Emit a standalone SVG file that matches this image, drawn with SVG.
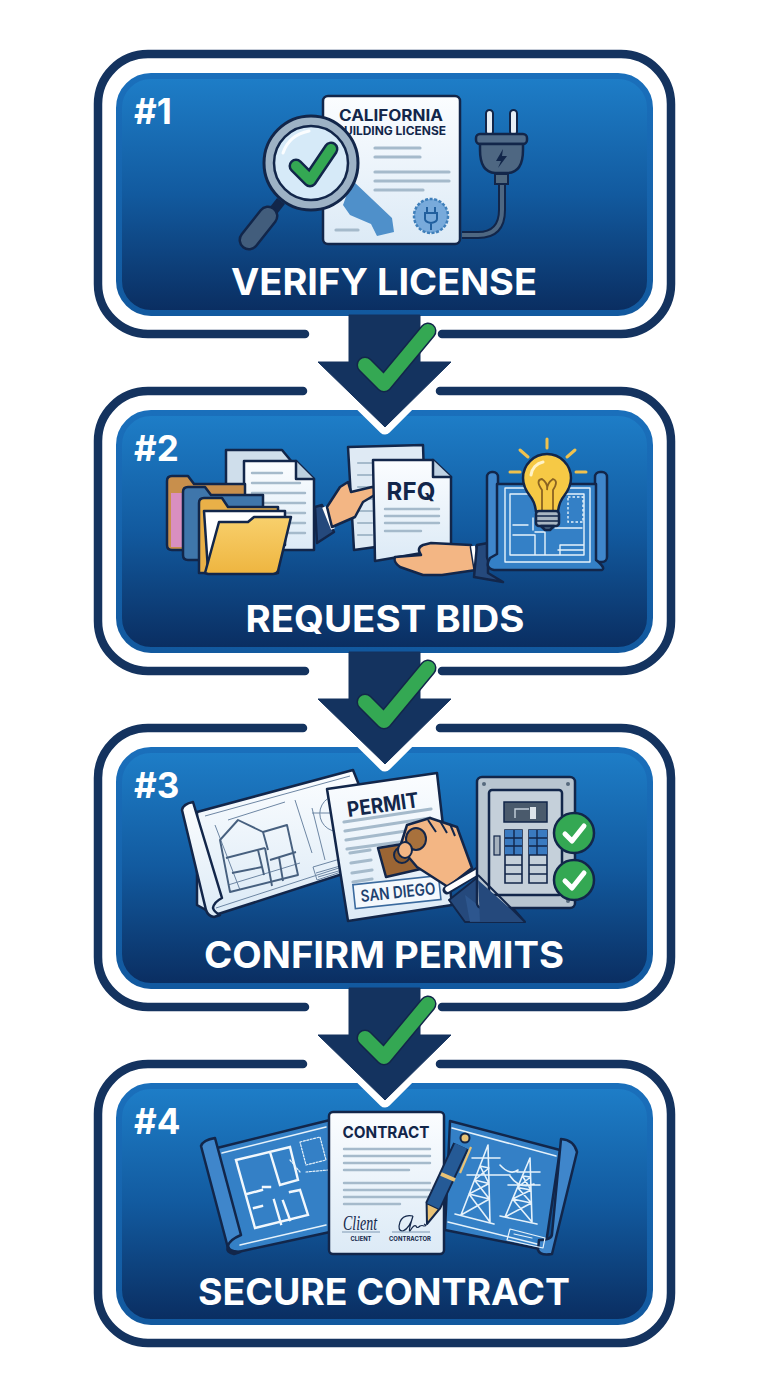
<svg xmlns="http://www.w3.org/2000/svg" width="768" height="1376" viewBox="0 0 768 1376">
<style>
.frame{fill:none;stroke:#14335f;stroke-width:8.5;stroke-linecap:round}
.panel{fill:url(#pg);stroke:url(#bg);stroke-width:6}
.num{font:700 35px Inter,"Liberation Sans",sans-serif;fill:#fff}
.title{font:700 37px Inter,"Liberation Sans",sans-serif;fill:#fff;text-anchor:middle}
.ink{font-family:Inter,"Liberation Sans",sans-serif;font-weight:700;fill:#12264a;text-anchor:middle}
.o{stroke:#12264a;stroke-width:2.5;stroke-linejoin:round;stroke-linecap:round}
.paper{fill:url(#paper);stroke:#12264a;stroke-width:2.5;stroke-linejoin:round}
.ln{fill:none;stroke:#a5bacb;stroke-width:3.2;stroke-linecap:round}
.wl{fill:none;stroke:#e6f2fb;stroke-width:1.5;stroke-linecap:round;stroke-linejoin:round}
.wb{fill:none;stroke:#f2f8fd;stroke-width:2.4;stroke-linecap:square;stroke-linejoin:miter}
.dl{fill:none;stroke:#6d86a3;stroke-width:1}
.dk{fill:none;stroke:#47607f;stroke-width:1.9;stroke-linejoin:round}
.skin{fill:#f3b684;stroke:#12264a;stroke-width:2.5;stroke-linejoin:round}
.suit{fill:#25497c;stroke:#12264a;stroke-width:2.5;stroke-linejoin:round}
.bp{fill:#3480c6;stroke:#12264a;stroke-width:2.5;stroke-linejoin:round}
.roll{fill:#3f86cb;stroke:#12264a;stroke-width:2.5;stroke-linejoin:round}
.ck1{fill:none;stroke:#12264a;stroke-width:17;stroke-linecap:round;stroke-linejoin:round}
.ck2{fill:none;stroke:#34a853;stroke-width:14;stroke-linecap:round;stroke-linejoin:round}
</style>
<defs>
<linearGradient id="pg" x1="0" y1="0" x2="0" y2="1"><stop offset="0" stop-color="#1e7ec8"/><stop offset=".5" stop-color="#125a9f"/><stop offset="1" stop-color="#0a2d60"/></linearGradient>
<linearGradient id="bg" x1="0" y1="0" x2="0" y2="1"><stop offset="0" stop-color="#1a6fbb"/><stop offset="1" stop-color="#12599f"/></linearGradient>
<linearGradient id="paper" x1="0" y1="0" x2="0" y2="1"><stop offset="0" stop-color="#fbfdff"/><stop offset="1" stop-color="#dceaf6"/></linearGradient>
<linearGradient id="yf" x1="0" y1="0" x2="0" y2="1"><stop offset="0" stop-color="#f8d06c"/><stop offset="1" stop-color="#eeb540"/></linearGradient>
<g id="arrow">
<path d="M318 362L385 428L451 362" fill="none" stroke="#fff" stroke-width="13" stroke-linejoin="round"/>
<path d="M349 315H420V362H451L385 427L318 362H349Z" fill="#14335f" stroke="#14335f" stroke-width="1" stroke-linejoin="round"/>
<path class="ck1" d="M365 365L384 384L428 331"/>
<path class="ck2" d="M365 365L384 384L428 331"/>
</g>
</defs>
<rect width="768" height="1376" fill="#fff"/>

<g id="step1">
<path class="frame" d="M305 334H148a50 50 0 0 1-50-50V104a50 50 0 0 1 50-50H621a50 50 0 0 1 50 50V284a50 50 0 0 1-50 50H442"/>
<rect class="panel" x="119" y="76" width="531" height="237" rx="32"/>
<text class="num" x="134" y="124">#1</text>
<path d="M462 235H478Q502 235 502 210V183" fill="none" stroke="#12264a" stroke-width="8"/>
<path d="M462 235H478Q502 235 502 210V183" fill="none" stroke="#4e6782" stroke-width="4"/>
<rect class="paper" x="323" y="96" width="137" height="148" rx="5"/>
<text class="ink" x="391" y="121" font-size="15.5" textLength="104" lengthAdjust="spacingAndGlyphs">CALIFORNIA</text>
<text class="ink" x="391" y="135" font-size="11.5" textLength="110" lengthAdjust="spacingAndGlyphs">BUILDING LICENSE</text>
<path class="ln" d="M375 148H420M375 157H420M375 172H449M375 181H449M375 190H423M336 230H358"/>
<path d="M352 180L392 218L394 232L377 236L371 224L350 215L343 205Z" fill="#4f90ca"/>
<circle cx="431" cy="216" r="17" fill="#78aadb" stroke="#3f7fba" stroke-width="2.5" stroke-dasharray="3 1.6"/>
<path d="M427 207V213M435 207V213M425 213H437V219Q437 222 431 223Q425 222 425 219ZM431 223V230" fill="none" stroke="#215f9e" stroke-width="2"/>
<path d="M281 201L270 215" stroke="#12264a" stroke-width="10"/>
<path d="M268 216L249 240" stroke="#12264a" stroke-width="21" stroke-linecap="round"/>
<path d="M268 216L249 240" stroke="#425d7c" stroke-width="16" stroke-linecap="round"/>
<circle cx="311" cy="163" r="47" fill="#9db2c5" stroke="#12264a" stroke-width="3"/>
<circle cx="311" cy="163" r="37" fill="#d6eaf8" stroke="#12264a" stroke-width="2.5"/>
<path d="M283 153Q289 135 309 131" fill="none" stroke="#fff" stroke-width="3" stroke-linecap="round" opacity=".9"/>
<path class="ck1" d="M296 166L310 180L331 149" style="stroke-width:15"/>
<path class="ck2" d="M296 166L310 180L331 149" style="stroke-width:10"/>
<rect x="486" y="110" width="7" height="25" rx="3.5" fill="#e7eef5" stroke="#12264a" stroke-width="2"/>
<rect x="510" y="110" width="7" height="25" rx="3.5" fill="#e7eef5" stroke="#12264a" stroke-width="2"/>
<rect x="476" y="134" width="51" height="10" rx="4" fill="#526c89" stroke="#12264a" stroke-width="2.5"/>
<path class="o" d="M480 144H523V150Q523 172 508 173H495Q480 172 480 150Z" fill="#4e6782"/>
<rect x="495" y="174" width="13" height="10" fill="#52697f" stroke="#12264a" stroke-width="2"/>
<path d="M503 149L496 161H501L498 168L507 156H502Z" fill="#12264a"/>
<text class="title" x="384" y="295" textLength="306" lengthAdjust="spacingAndGlyphs">VERIFY LICENSE</text>
</g>

<g id="step2">
<path class="frame" d="M303 391H148a50 50 0 0 0-50 50V621a50 50 0 0 0 50 50H305M442 671H621a50 50 0 0 0 50-50V441a50 50 0 0 0-50-50H440"/>
<rect class="panel" x="119" y="413" width="531" height="237" rx="32"/>
<text class="num" x="134" y="461">#2</text>
<path class="o" d="M226 450H282L292 462V540H226Z" fill="#cfdeeb"/>
<path class="paper" d="M244 461H296L314 479V550H244Z"/>
<path class="o" d="M296 461V479H314" fill="#bcd0e0"/>
<path class="ln" d="M252 473H282M252 483H300M252 493H305M252 503H305M252 513H305M252 523H305M252 533H305" style="stroke-width:2.4"/>
<path class="o" d="M167 481Q167 476 172 476H188L194 484H245V550H172Q167 550 167 545Z" fill="#c88f4c"/>
<rect x="171" y="493" width="12" height="54" fill="#d98fc0"/>
<path class="o" d="M183 492Q183 487 188 487H205L211 495H263V560H188Q183 560 183 555Z" fill="#3f76ab"/>
<path class="o" d="M199 503Q199 498 204 498H222L228 507H278V573H199Z" fill="#e9b048"/>
<path class="o" d="M204 511H285V545L208 570Z" fill="#fff"/>
<path class="o" d="M205 573L219 522H248L254 517H291L278 571Q277 574 273 574H208Z" fill="url(#yf)"/>
<path class="suit" d="M315 507L322 505L334 532L317 543Z"/>
<path d="M324 507L333 529" stroke="#fff" stroke-width="4"/>
<path class="o" d="M348 447L423 445L426 540L354 550Z" fill="#dfeaf4"/>
<path class="ln" d="M358 463H372M358 475H372M358 487H372M358 499H372M358 511H372M358 523H372M358 535H372" style="stroke-width:2.2"/>
<path class="skin" d="M327 507L340 487L348 482L351 492L372 487Q380 488 378 493L363 502L355 517L332 527Z"/>
<path class="paper" d="M373 460H433L451 477V548L375 561Z"/>
<path class="o" d="M433 460V477H451" fill="#bfd2e3"/>
<text class="ink" x="411" y="500" font-size="24" textLength="49">RFQ</text>
<path class="ln" d="M385 509H439M385 516H439M385 523H439M385 531H421" style="stroke-width:2.4"/>
<path class="skin" d="M395 557L421 555Q416 548 423 545L431 543L471 545L476 570L442 575L423 575L400 567Q393 562 395 557Z"/>
<path d="M473 546L477 571" stroke="#12264a" stroke-width="7"/>
<path d="M473 546L477 571" stroke="#fff" stroke-width="4"/>
<path class="suit" d="M477 545L488 543V573L503 582L474 577Z"/>
<rect class="roll" x="487" y="472" width="11" height="90" rx="5"/>
<rect class="roll" x="595" y="472" width="12" height="90" rx="5"/>
<path class="bp" d="M497 484H596V560Q606 568 602 570H494Q484 568 490 558L497 554Z"/>
<path class="wl" d="M505 488H590V562H505ZM510 494H584V555H510ZM513 525H528M533 518V530M513 535H535V555M535 532H545V555M560 545H584M558 550H584M560 545V555M555 528H582" style="stroke-width:1.4"/>
<rect x="568" y="497" width="15" height="25" fill="none" stroke="#e6f2fb" stroke-width="1.4" stroke-dasharray="2.5 2"/>
<path d="M547 439V448M520 450L528 457M575 450L567 457M510 472H520M576 472H586" fill="none" stroke="#efc14e" stroke-width="3" stroke-linecap="round"/>
<path class="o" d="M536 512Q535 502 530 496Q523 487 523 478A24 24 0 0 1 571 478Q571 487 564 496Q559 502 558 512Z" fill="#f6c945"/>
<path d="M531 475A15 15 0 0 1 543 462" fill="none" stroke="#fff3c7" stroke-width="3" stroke-linecap="round"/>
<path d="M542 512V490Q535 480 542 479Q548 483 547 490Q547 483 553 479Q559 481 553 490V512" fill="none" stroke="#8a6322" stroke-width="1.8"/>
<rect class="o" x="536" y="511" width="23" height="15" rx="3" fill="#a9b6c2"/>
<path d="M537 516H558M537 521H558" stroke="#12264a" stroke-width="1.5"/>
<path class="o" d="M541 526H554L550 530H545Z" fill="#4e6782"/>
<text class="title" x="385" y="632" textLength="279" lengthAdjust="spacingAndGlyphs">REQUEST BIDS</text>
</g>

<g id="step3">
<path class="frame" d="M303 728H148a50 50 0 0 0-50 50V957a50 50 0 0 0 50 50H305M442 1007H621a50 50 0 0 0 50-50V778a50 50 0 0 0-50-50H440"/>
<rect class="panel" x="119" y="750" width="531" height="236" rx="32"/>
<text class="num" x="134" y="798">#3</text>
<path class="paper" d="M197 812L353 770L361 790L355 870L215 915L197 905Z"/>
<path class="dl" d="M205 816L350 776M216 908L345 866M215 825L240 890M228 885L300 863M228 820L285 802M295 800L312 853M312 808L325 860"/>
<path class="dk" d="M220 840L238 820L263 832L287 825L298 875L230 892Z"/>
<path class="dk" d="M226 858L265 848M232 873L262 867M263 832L268 850M265 848L272 886M270 860L296 852M258 850L264 875M279 857L283 881"/>
<path class="dl" d="M345 797A18 18 0 1 0 345 830M312 813H346M313 867L340 859L344 871L317 880ZM316 873L340 866M318 877L342 870"/>
<path class="paper" d="M182 810Q183 804 193 802L222 898Q214 902 213 908Q214 912 220 915L214 917Q208 916 206 910Z"/>
<path class="paper" d="M327 789L437 773L452 905L348 921Z"/>
<text class="ink" transform="translate(384 812) rotate(-8)" font-size="21" textLength="72" lengthAdjust="spacingAndGlyphs">PERMIT</text>
<path class="ln" d="M344 822L431 809M345 831L430 818M346 840L406 831M347 849L400 842M350 853L370 850M351 863L371 860M352 873L372 870M353 882L372 879"/>
<g transform="translate(398 893) rotate(-6)">
<rect x="-44" y="-13" width="86" height="24" fill="#f4f9fd" stroke="#3a6a9e" stroke-width="1.6"/>
<text class="ink" y="5" font-size="16.5" textLength="75" lengthAdjust="spacingAndGlyphs" style="font-weight:600;fill:#1d416f">SAN DIEGO</text>
</g>
<path d="M378 848L415 842L425 868L386 877Z" fill="#9b6534" stroke="#12264a" stroke-width="2.5" stroke-linejoin="round"/>
<circle cx="402" cy="855" r="8" fill="#8a5a2e" stroke="#12264a" stroke-width="2"/>
<path class="suit" d="M449 900L483 873L525 922H465Z" style="stroke-width:2"/>
<path d="M465 895L500 922H470Z" fill="#2f5a92" opacity=".8"/>
<path class="skin" d="M400 847L407 825L430 818L457 827L472 868L448 887L417 867Z"/>
<ellipse cx="416" cy="839" rx="10" ry="11" fill="#a8713c" stroke="#12264a" stroke-width="2"/>
<ellipse cx="405" cy="850" rx="7" ry="8" fill="#f3b684" stroke="#12264a" stroke-width="2"/>
<path d="M428 820L436 832M440 821L447 833M450 824L455 836" fill="none" stroke="#12264a" stroke-width="2"/>
<path d="M447 890L478 871" stroke="#12264a" stroke-width="9" stroke-linecap="round"/>
<path d="M448 889L477 872" stroke="#fff" stroke-width="5.5" stroke-linecap="round"/>
<rect x="477" y="777" width="98" height="131" rx="5" fill="#b8c5d0" stroke="#12264a" stroke-width="2.5"/>
<circle cx="484" cy="784" r="2" fill="#56697d"/><circle cx="568" cy="784" r="2" fill="#56697d"/><circle cx="568" cy="901" r="2" fill="#56697d"/>
<rect x="489" y="790" width="73" height="105" rx="3" fill="#c5d0da" stroke="#12264a" stroke-width="2.5"/>
<rect x="504" y="802" width="43" height="20" fill="#4a5a6c" stroke="#12264a" stroke-width="1.5"/>
<path d="M515 818V809H529" fill="none" stroke="#c5d0da" stroke-width="1.4"/>
<rect x="530" y="807" width="6" height="12" fill="#dde4ea"/>
<rect x="494" y="836" width="6" height="19" fill="#a5b1bd" stroke="#12264a" stroke-width="1.2"/>
<path d="M505 830H522V883H505ZM529 830H547V883H529Z" fill="#c5d0da" stroke="#12264a" stroke-width="1.6"/>
<path d="M505 830H522V855H505ZM529 830H547V855H529Z" fill="#3a7ac0"/>
<path d="M505 838H522M505 846H522M505 855H522M505 865H522M505 874H522M529 838H547M529 846H547M529 855H547M529 865H547M529 874H547M514 830V855M537 830V855" stroke="#12264a" stroke-width="1.4" fill="none"/>
<path class="suit" d="M478 880L525 922H480Z" style="stroke:none"/>
<path d="M478 875L525 922" stroke="#12264a" stroke-width="2"/>
<circle cx="574" cy="833" r="20" fill="#34a853" stroke="#12264a" stroke-width="2.5"/>
<path d="M565 834L572 841L584 826" fill="none" stroke="#fff" stroke-width="5" stroke-linecap="round" stroke-linejoin="round"/>
<circle cx="574" cy="880" r="20" fill="#34a853" stroke="#12264a" stroke-width="2.5"/>
<path d="M565 881L572 888L584 873" fill="none" stroke="#fff" stroke-width="5" stroke-linecap="round" stroke-linejoin="round"/>
<text class="title" x="384" y="968" textLength="360" lengthAdjust="spacingAndGlyphs">CONFIRM PERMITS</text>
</g>

<g id="step4">
<path class="frame" d="M303 1064H148a50 50 0 0 0-50 50V1293a50 50 0 0 0 50 50H621a50 50 0 0 0 50-50V1114a50 50 0 0 0-50-50H440"/>
<rect class="panel" x="119" y="1086" width="531" height="236" rx="32"/>
<text class="num" x="134" y="1134">#4</text>
<path class="bp" d="M217 1148L330 1120V1232L238 1252L228 1250Z"/>
<path class="wl" d="M222 1153L326 1127M240 1245L326 1225"/>
<path class="wb" d="M236 1160L290 1147L298 1180L280 1185L270 1152M236 1160L255 1228L308 1215L300 1190L290 1192M247 1194L262 1190M262 1206L254 1208M274 1200L281 1224M283 1201L290 1220M263 1187L270 1187"/>
<path class="wl" d="M300 1142L320 1137L326 1160L306 1165ZM306 1172L328 1170M290 1160L300 1172" style="stroke-width:1.2;stroke-dasharray:2 1.5"/>
<path class="roll" d="M201 1146Q203 1140 215 1138L241 1235Q229 1240 228 1246Q229 1252 240 1252L234 1254Q226 1252 228 1248Z"/>
<path class="bp" d="M450 1121L560 1150L545 1250L445 1230Z"/>
<path class="wl" d="M452 1128L556 1156M448 1222L541 1245"/>
<path class="roll" d="M561 1139Q574 1140 577 1152L552 1254Q540 1256 538 1250L539 1240Q552 1240 552 1234Z"/>
<path class="wl" d="M510 1229L545 1238L543 1248L507 1240ZM514 1234L532 1238" style="stroke-width:1.2"/>
<path class="wl" d="M461 1215L488 1145L490 1222M455 1214L494 1224M472 1158H500M467 1175H510M480 1166L489 1168M474.500 1180L489 1183.500M469 1194L489.400 1199M480 1166L489 1183.500M489 1168L474.500 1180M474.500 1180L489.400 1199M489 1183.500L469 1194M469 1194L490 1222M489.400 1199L461 1215" style="stroke-width:1.6"/>
<path class="wl" d="M505 1217L530 1158L532 1222M500 1216L537 1224M517 1172H540M508 1185H540M522.500 1176L530.600 1177M517.500 1187.500L531 1190M512.500 1199L531.400 1203M522.500 1176L531 1190M530.600 1177L517.500 1187.500M517.500 1187.500L531.400 1203M531 1190L512.500 1199M512.500 1199L532 1222M531.400 1203L505 1217M500 1165Q510 1176 518 1170M510 1176Q520 1190 534 1184" style="stroke-width:1.6"/>
<rect class="paper" x="329" y="1112" width="115" height="142" rx="4"/>
<text class="ink" x="386" y="1138" font-size="16" textLength="87" lengthAdjust="spacingAndGlyphs">CONTRACT</text>
<path class="ln" d="M344 1149H430M344 1156H430M344 1163H430M344 1170H409M344 1183H430M344 1190H430M344 1197H430M344 1204H400" style="stroke-width:2.4"/>
<text x="360" y="1230" font-family="'Liberation Serif',serif" font-style="italic" font-size="21" fill="#12264a" text-anchor="middle" textLength="34" lengthAdjust="spacingAndGlyphs">Client</text>
<path d="M413 1216Q403 1214 400 1222Q397 1231 403 1231Q410 1228 413 1216Q408 1232 410 1231Q414 1224 416 1226Q417 1229 420 1226Q422 1225 424 1226Q428 1226 424 1224" fill="none" stroke="#12264a" stroke-width="1.2"/>
<path d="M342 1232H380M392 1232H430" stroke="#7f99b3" stroke-width="1"/>
<text class="ink" x="361" y="1241" font-size="6" textLength="21" lengthAdjust="spacingAndGlyphs">CLIENT</text>
<text class="ink" x="410" y="1241" font-size="6" textLength="42" lengthAdjust="spacingAndGlyphs">CONTRACTOR</text>
<path d="M427 1224L426.600 1203L439.400 1209Z" fill="#e9c275" stroke="#12264a" stroke-width="2" stroke-linejoin="round"/>
<path d="M433 1206L461 1146" stroke="#12264a" stroke-width="17"/>
<path d="M433 1206L461 1146" stroke="#255a96" stroke-width="13"/>
<path d="M441 1174L455 1180" stroke="#e9c275" stroke-width="4"/>
<circle cx="465" cy="1138" r="4.500" fill="#e9c275" stroke="#12264a" stroke-width="2"/>
<path d="M471 1147L460 1173" stroke="#e9c275" stroke-width="2.2"/>
<text class="title" x="384" y="1305" textLength="372" lengthAdjust="spacingAndGlyphs">SECURE CONTRACT</text>
</g>

<g id="connectors">
<use href="#arrow"/>
<use href="#arrow" y="337"/>
<use href="#arrow" y="673"/>
</g>
</svg>
